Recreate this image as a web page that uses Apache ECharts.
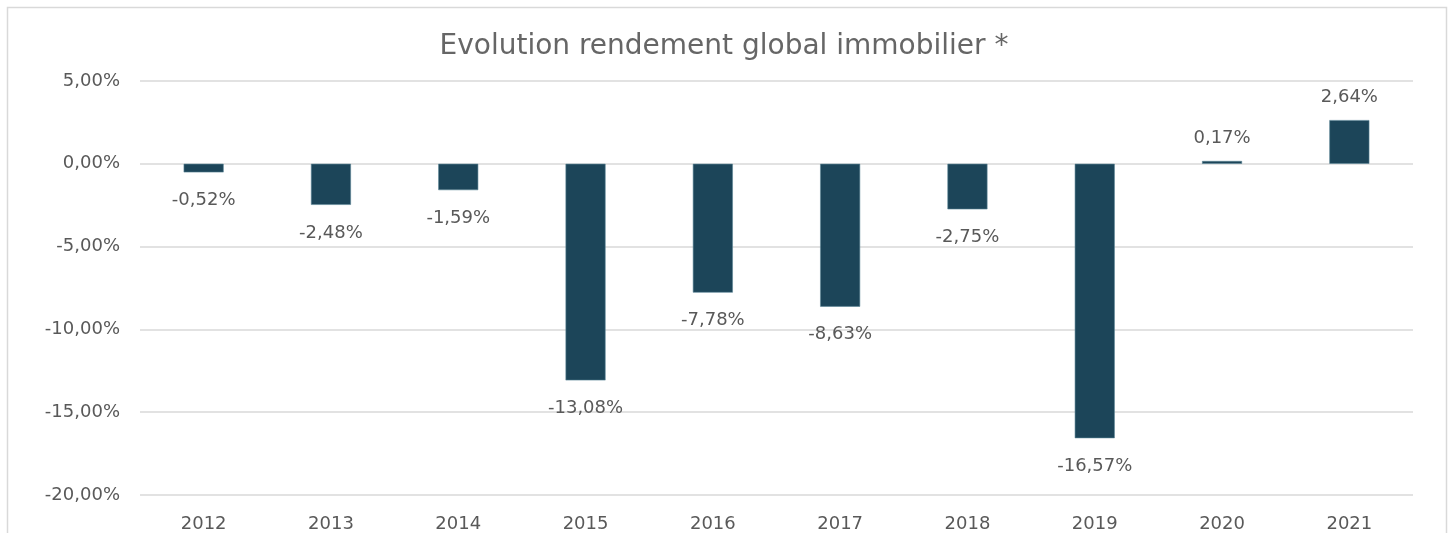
<!DOCTYPE html>
<html><head><meta charset="utf-8">
<script src="https://cdn.jsdelivr.net/npm/echarts@6/dist/echarts.min.js"></script>
<style>html,body{margin:0;padding:0;background:#fff}#c{width:1448px;height:533px}</style>
</head><body><div id="c"></div>
<script>
const titleText = 'Evolution rendement global immobilier *';
const years = ['2012','2013','2014','2015','2016','2017','2018','2019','2020','2021'];
const rendement = [-0.52,-2.48,-1.59,-13.08,-7.78,-8.63,-2.75,-16.57,0.17,2.64];
const yMin = -20, yMax = 5, yStep = 5;

const FONT = 'DejaVu Sans';
const TXT = '#595959';
const fmt = v => v.toFixed(2).replace('.', ',') + '%';

const chart = echarts.init(document.getElementById('c'), null, {renderer:'canvas'});
chart.setOption({
  animation:false,
  backgroundColor:'#fff',
  title:{text:titleText,left:'center',top:28,textStyle:{fontFamily:FONT,fontWeight:'normal',fontSize:28,color:'#666666'}},
  graphic:[{type:'rect',shape:{x:7.5,y:7.5,width:1439,height:560},style:{fill:'none',stroke:'#d9d9d9',lineWidth:1.5},silent:true,z:-1}],
  grid:{left:140,right:35,top:81,bottom:38,containLabel:false},
  xAxis:{type:'category',data:years,axisLine:{show:false},axisTick:{show:false},
    axisLabel:{fontFamily:FONT,fontSize:18,color:TXT,margin:20}},
  yAxis:{type:'value',min:yMin,max:yMax,interval:yStep,axisLine:{show:false},axisTick:{show:false},
    splitLine:{lineStyle:{color:'#d9d9d9',width:1.5}},
    axisLabel:{fontFamily:FONT,fontSize:18,color:TXT,margin:20,formatter:fmt}},
  series:[{type:'bar',barWidth:40,
    data:rendement.map(v=>({value:v,label:{position:v<0?'bottom':'top',distance:v<0?19:14}})),
    itemStyle:{color:'#1c4559',borderColor:'#5b8596',borderWidth:0.6},
    label:{show:true,fontFamily:FONT,fontSize:18,color:TXT,formatter:p=>fmt(p.value)}}]
});
</script></body></html>
